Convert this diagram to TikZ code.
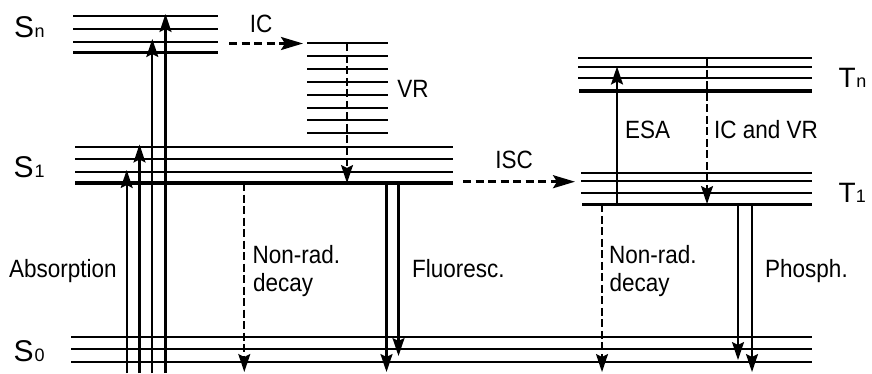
\documentclass[tikz,border=0pt]{standalone}
\usepackage{fontspec}
\setmainfont{Liberation Sans}[FakeStretch=0.9]
\newfontfamily\levfont{Liberation Sans}
\usetikzlibrary{arrows.meta}
\begin{document}
\begin{tikzpicture}[x=1pt,y=-1pt,
  lvl/.style={line width=2pt},
  lvlthick/.style={line width=3.6pt},
  solidarr/.style={line width=2.1pt,-{Stealth[length=18pt,width=12pt,inset=3pt]}},
  dasharr/.style={line width=1.9pt,dash pattern=on 8pt off 3.5pt,-{Stealth[length=18pt,width=12pt,inset=3pt]}},
  hdash/.style={line width=2.6pt,dash pattern=on 8pt off 4.5pt,-{Stealth[length=22pt,width=13pt,inset=4pt]}},
  lbl/.style={inner sep=0pt,font=\fontsize{25}{25}\selectfont},
  lev/.style={inner sep=0pt,anchor=base west,font=\levfont}]
\useasboundingbox (0,0) rectangle (872,373);

% ---- levels ----
% Sn
\foreach \y in {15.7,28.7,41.7} \draw[lvl] (73,\y) -- (218,\y);
\draw[lvlthick] (73,52.3) -- (218,52.3);
% VR ladder
\foreach \k in {0,...,7} \draw[lvl] (307,{43.3+12.86*\k}) -- (388,{43.3+12.86*\k});
% S1
\foreach \y in {146.7,159.3,172.3} \draw[lvl] (75,\y) -- (453,\y);
\draw[lvlthick] (75,182.7) -- (453,182.7);
% Tn
\foreach \y in {58.3,66.7,78.3} \draw[lvl] (578,\y) -- (812,\y);
\draw[lvlthick] (579,90.7) -- (812,90.7);
% T1
\foreach \y in {172.7,180.7,192.7} \draw[lvl] (581,\y) -- (812,\y);
\draw[lvlthick] (582,204.3) -- (812,204.3);
% S0
\foreach \y in {336.7,349.3,361.7} \draw[lvl] (71,\y) -- (812,\y);

% ---- level labels ----
\node[lev] (Sn) at (14,37.5) {\fontsize{30}{30}\selectfont S\kern0.5pt\fontsize{18}{18}\selectfont n};
\node[lev] (S1) at (13.5,177) {\fontsize{30}{30}\selectfont S\kern1pt\fontsize{18}{18}\selectfont 1};
\node[lev] (S0) at (13.5,361.5) {\fontsize{30}{30}\selectfont S\kern1pt\fontsize{18}{18}\selectfont 0};
\node[lev] (Tn) at (838.5,87) {\fontsize{28}{28}\selectfont T\kern0.5pt\fontsize{18}{18}\selectfont n};
\node[lev] (T1) at (838.5,202.5) {\fontsize{28}{28}\selectfont T\fontsize{18}{18}\selectfont 1};

% ---- arrow end points ----
\coordinate (ab1a) at (126.7,373); \coordinate (ab1b) at (126.7,170);
\coordinate (ab2a) at (139.5,373); \coordinate (ab2b) at (139.5,144.5);
\coordinate (ab3a) at (152.3,373); \coordinate (ab3b) at (152.3,39);
\coordinate (ab4a) at (165.5,373); \coordinate (ab4b) at (165.5,14);
\coordinate (ica) at (229,43.5); \coordinate (icb) at (303,43.5);
\coordinate (vra) at (347,43.3); \coordinate (vrb) at (347,183);
\coordinate (isca) at (463,181.7); \coordinate (iscb) at (575,181.7);
\coordinate (esaa) at (617,204.3); \coordinate (esab) at (617,66.5);
\coordinate (icvra) at (707,58.3); \coordinate (icvrb) at (707,204);
\coordinate (nr1a) at (244.3,183); \coordinate (nr1b) at (244.3,372);
\coordinate (fl1a) at (386.5,183); \coordinate (fl1b) at (386.5,372);
\coordinate (fl2a) at (398.5,183); \coordinate (fl2b) at (398.5,356);
\coordinate (nr2a) at (602,204.3); \coordinate (nr2b) at (602,372);
\coordinate (ph1a) at (738,204.3); \coordinate (ph1b) at (738,360);
\coordinate (ph2a) at (752,204.3); \coordinate (ph2b) at (752,372);

% ---- arrows ----
\draw[solidarr] (ab1a) -- (ab1b);
\draw[solidarr] (ab2a) -- (ab2b);
\draw[solidarr] (ab3a) -- (ab3b);
\draw[solidarr] (ab4a) -- (ab4b);
\draw[hdash] (ica) -- (icb);
\draw[dasharr] (vra) -- (vrb);
\draw[hdash] (isca) -- (iscb);
\draw[solidarr] (esaa) -- (esab);
\draw[dasharr] (icvra) -- (icvrb);
\draw[dasharr] (nr1a) -- (nr1b);
\draw[solidarr] (fl1a) -- (fl1b);
\draw[solidarr] (fl2a) -- (fl2b);
\draw[dasharr] (nr2a) -- (nr2b);
\draw[solidarr] (ph1a) -- (ph1b);
\draw[solidarr] (ph2a) -- (ph2b);

% ---- process labels ----
\node[lbl,anchor=base] (ic) at (261,32.3) {IC};
\node[lbl,anchor=base] (vr) at (413,97) {VR};
\node[lbl,anchor=base] (isc) at (514,168.5) {ISC};
\node[lbl,anchor=base west] (esa) at (625,138.5) {ESA};
\node[lbl,anchor=base west] (icvr) at (714,138.5) {IC and VR};
\node[lbl,anchor=base west] (absn) at (9,277) {Absorption};
\node[lbl,anchor=base west] (nr1) at (252.5,263) {Non-rad.};
\node[lbl,anchor=base west] (nr1d) at (253,291) {decay};
\node[lbl,anchor=base west] (flu) at (412,277) {Fluoresc.};
\node[lbl,anchor=base west] (nr2) at (609,263) {Non-rad.};
\node[lbl,anchor=base west] (nr2d) at (609.5,291) {decay};
\node[lbl,anchor=base west] (pho) at (765,277) {Phosph.};
\end{tikzpicture}
\end{document}
